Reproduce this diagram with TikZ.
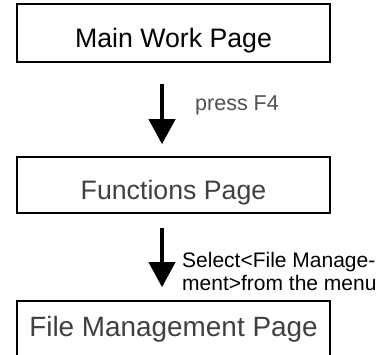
\documentclass[tikz,border=0pt]{standalone}
\usepackage{fontspec}
\setmainfont{Liberation Sans}
\usetikzlibrary{arrows.meta}
\definecolor{txtgray}{RGB}{64,64,64}
\definecolor{lblgray}{RGB}{80,80,80}

\begin{document}
\begin{tikzpicture}[x=1pt,y=1pt,
  pagebox/.style={draw,line width=1.6pt,minimum width=313pt,inner sep=0pt,
    font=\fontsize{26.7}{32}\selectfont,text height=29pt,text depth=0pt},
  flowarrow/.style={line width=4pt,-{Triangle[width=26pt,length=25pt]}},
  note/.style={anchor=west,inner sep=0pt,align=left}]
  \useasboundingbox (0,0) rectangle (390,355);
  \clip (0,0) rectangle (390,355);
  \node[pagebox,minimum height=58pt] (main) at (173.5,322) {Main Work Page};
  \node[pagebox,minimum height=56pt,text=txtgray] (func) at (173.5,170) {Functions Page};
  \node[pagebox,minimum height=58pt,text=txtgray,font=\fontsize{27.9}{33}\selectfont,
    text height=13pt] (file) at (173.5,25) {File Management Page};
  \draw[flowarrow] ([xshift=-11.5pt,yshift=-21pt]main.south) -- ([xshift=-11.5pt,yshift=12pt]func.north);
  \draw[flowarrow] ([xshift=-11.5pt,yshift=-14pt]func.south) -- ([xshift=-11.5pt,yshift=13pt]file.north);
  \node[note,text=lblgray,font=\fontsize{21.5}{24}\selectfont] (press) at (195,250) {press F4};
  \node[note,font=\fontsize{21}{23}\selectfont] (select) at (182,84) {Select<File Manage-\\ment>from the menu};
\end{tikzpicture}
\end{document}
